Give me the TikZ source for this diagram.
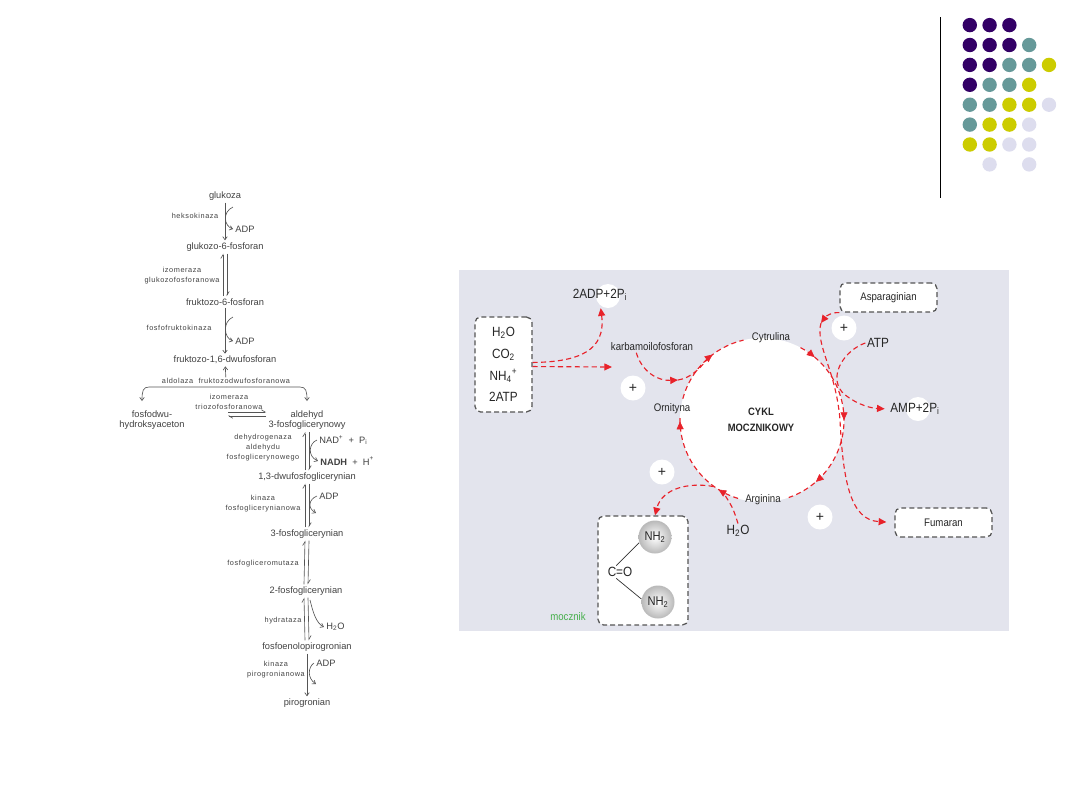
\documentclass[tikz,border=0pt]{standalone}
\usepackage{fontspec}
\setmainfont{Liberation Sans}
\newfontfamily\enzfont[LetterSpace=8]{Liberation Sans}
\newfontfamily\urfont[FakeStretch=0.88]{Liberation Sans}
\usepackage{tikz}
\usetikzlibrary{arrows.meta,decorations.markings}

\begin{document}
\begin{tikzpicture}[x=0.025cm, y=-0.025cm, font=\fontsize{6.6}{7.6}\selectfont,
    met/.style={text=glyText, inner sep=1.5pt},
    enz/.style={text=glyText, font=\enzfont\fontsize{5.2}{7.1}\selectfont, align=center, inner sep=0.5pt},
    glyArr/.style={draw=glyLine, line width=0.45pt, -{Straight Barb[length=2.2pt,width=3.2pt]}},
    harp/.style={draw=glyLine, line width=0.45pt, -{Straight Barb[left,length=2.6pt,width=3.2pt]}},
    redDash/.style={draw=ureaRed, line width=0.8pt, dash pattern=on 3.6pt off 2.4pt},
    redArr/.style={redDash, -{Triangle[length=5.5pt,width=5pt]}},
    urBox/.style={draw=boxGray, fill=white, line width=0.9pt, dash pattern=on 3.5pt off 2.2pt, rounded corners=4pt, inner sep=0pt},
    urLbl/.style={text=black!85, font=\urfont\fontsize{7.8}{9}\selectfont, inner sep=1pt},
    urBig/.style={text=black!85, font=\urfont\fontsize{9.5}{11}\selectfont, inner sep=1pt},
    plusNode/.style={circle, fill=white, minimum size=0.625cm, inner sep=0pt, text=black!85, font=\fontsize{10}{10}\selectfont},
    piDisk/.style={circle, fill=white, minimum size=0.6cm, inner sep=0pt},
    nhBall/.style={circle, shading=radial, inner color=white, outer color=gray!55, minimum size=0.825cm, inner sep=0pt, text=black!85, font=\urfont\fontsize{9}{10}\selectfont}]
    \definecolor{glyText}{RGB}{65,65,65}
    \definecolor{glyLine}{RGB}{85,85,85}
    \definecolor{bgUrea}{RGB}{227,228,237}
    \definecolor{ureaRed}{RGB}{232,34,42}
    \definecolor{boxGray}{RGB}{85,85,85}
    \definecolor{mocGreen}{RGB}{70,175,75}
    \definecolor{dotPurple}{RGB}{51,0,102}
    \definecolor{dotTeal}{RGB}{102,153,153}
    \definecolor{dotYellow}{RGB}{204,204,0}
    \definecolor{dotLilac}{RGB}{221,221,238}

    \newcommand{\revstep}[2]{
        \draw[harp] ([xshift=-0.05cm]#2.north) -- ([xshift=-0.05cm]#1.south);
        \draw[harp] ([xshift=0.05cm]#1.south) -- ([xshift=0.05cm]#2.north);
    }

    \useasboundingbox (0,0) rectangle (1080,810);

    \draw[line width=1.2pt] (940.5,17) -- (940.5,198);
    \foreach \c/\r/\col in {1/1/dotPurple,2/1/dotPurple,3/1/dotPurple,
            1/2/dotPurple,2/2/dotPurple,3/2/dotPurple,4/2/dotTeal,
            1/3/dotPurple,2/3/dotPurple,3/3/dotTeal,4/3/dotTeal,5/3/dotYellow,
            1/4/dotPurple,2/4/dotTeal,3/4/dotTeal,4/4/dotYellow,
            1/5/dotTeal,2/5/dotTeal,3/5/dotYellow,4/5/dotYellow,5/5/dotLilac,
            1/6/dotTeal,2/6/dotYellow,3/6/dotYellow,4/6/dotLilac,
            1/7/dotYellow,2/7/dotYellow,3/7/dotLilac,4/7/dotLilac,
            2/8/dotLilac,4/8/dotLilac}
        {\fill[\col] ({950+19.8*\c},{5.2+19.9*\r}) circle[radius=7.2];}

    \node[met] (glu) at (225,196) {glukoza};
    \node[met] (g6p) at (225,247) {glukozo-6-fosforan};
    \node[met] (f6p) at (225,302) {fruktozo-6-fosforan};
    \node[met] (f16) at (225,360) {fruktozo-1,6-dwufosforan};
    \node[met, align=center] (dhap) at (152,420) {fosfodwu-\\hydroksyaceton};
    \node[met, align=center] (gap) at (307,420) {aldehyd\\3-fosfoglicerynowy};
    \node[met] (bpg) at (307,477) {1,3-dwufosfoglicerynian};
    \node[met] (pg3) at (307,534) {3-fosfoglicerynian};
    \node[met] (pg2) at (306,591) {2-fosfoglicerynian};
    \node[met] (pep) at (307,647) {fosfoenolopirogronian};
    \node[met] (pyr) at (307,703) {pirogronian};

    \node[enz] (eHK) at (195,216) {heksokinaza};
    \node[enz] (eGPI) at (182,276) {izomeraza\\glukozofosforanowa};
    \node[enz] (ePFK) at (179,328) {fosfofruktokinaza};
    \node[enz] (eALD) at (226,381) {aldolaza\ \ fruktozodwufosforanowa};
    \node[enz] (eTPI) at (229,402) {izomeraza\\triozofosforanowa};
    \node[enz] (eGAPDH) at (263,448) {dehydrogenaza\\aldehydu\\fosfoglicerynowego};
    \node[enz] (ePGK) at (263,504) {kinaza\\fosfoglicerynianowa};
    \node[enz] (ePGM) at (263,564) {fosfogliceromutaza};
    \node[enz] (eENO) at (283,621) {hydrataza};
    \node[enz] (ePK) at (276,670) {kinaza\\pirogronianowa};

    \node[met] (adpA) at (245,229) {ADP};
    \node[met] (adpB) at (245,341) {ADP};
    \node[met, anchor=west] (nad) at (317,440) {NAD\textsuperscript{+}\ \ +\ \ P\textsubscript{i}};
    \node[met, anchor=west] (nadh) at (318,461) {\textbf{NADH}\ \ +\ \ H\textsuperscript{+}};
    \node[met, anchor=west] (adpC) at (317,496) {ADP};
    \node[met, anchor=west] (h2oG) at (324,627) {H\textsubscript{2}O};
    \node[met, anchor=west] (adpD) at (314,663) {ADP};

    \coordinate (hkIn) at (233,207);
    \coordinate (pfkIn) at (233,317);
    \coordinate (aldFork) at (226,387);
    \coordinate (dhapIn) at (142,401);
    \coordinate (gapIn) at (307,401);
    \coordinate (tpiTop) at (228,412);
    \coordinate (tpiBot) at (228,416);
    \coordinate (pgkOut) at (316,513);
    \coordinate (enoIn) at (310,600);
    \coordinate (pkOut) at (316,684);

    \draw[glyArr] (glu) -- (g6p);
    \draw[glyArr] (hkIn) .. controls (222,212) and (224,226) .. (adpA.west);
    \revstep{g6p}{f6p}
    \draw[glyArr] (f6p) -- (f16);
    \draw[glyArr] (pfkIn) .. controls (222,322) and (224,338) .. (adpB.west);
    \draw[glyArr] (eALD) -- (f16);
    \draw[glyArr] (aldFork) -- (149,387) .. controls (143,387) and (142,391) .. (dhapIn);
    \draw[glyArr] (aldFork) -- (300,387) .. controls (306,387) and (307,391) .. (gapIn);
    \draw[harp] (tpiTop) -- (tpiTop -| gap.west);
    \draw[harp] (tpiBot -| gap.west) -- (tpiBot);
    \revstep{gap}{bpg}
    \draw[glyArr] (nad.west) .. controls (309,443) and (307,456) .. (nadh.west);
    \revstep{bpg}{pg3}
    \draw[glyArr] (adpC.west) .. controls (309,499) and (307,508) .. (pgkOut);
    \revstep{pg3}{pg2}
    \revstep{pg2}{pep}
    \draw[glyArr] (enoIn) .. controls (313,612) and (316,623) .. (h2oG.west);
    \draw[glyArr] (pep) -- (pyr);
    \draw[glyArr] (adpD.west) .. controls (308,667) and (307,678) .. (pkOut);

    \fill[bgUrea] (459,270) rectangle (1009,631);
    \node[circle, fill=white, minimum size=4.1cm, inner sep=0pt] (cyc) at (762,420) {};
    \draw[redDash] (cyc.center) ++(-62:82) arc[start angle=-62, end angle=71, radius=82];
    \draw[redDash] (cyc.center) ++(107:82) arc[start angle=107, end angle=183, radius=82];
    \draw[redDash] (cyc.center) ++(195:82) arc[start angle=195, end angle=257, radius=82];
    \path[color=ureaRed, postaction={decorate}, decoration={markings,
            mark=at position 0.111 with {\arrow{Triangle[length=5.5pt,width=5pt]}},
            mark=at position 0.25 with {\arrow{Triangle[length=5.5pt,width=5pt]}},
            mark=at position 0.386 with {\arrow{Triangle[length=5.5pt,width=5pt]}},
            mark=at position 0.589 with {\arrow{Triangle[length=5.5pt,width=5pt]}},
            mark=at position 0.747 with {\arrow{Triangle[length=5.5pt,width=5pt]}},
            mark=at position 0.897 with {\arrow{Triangle[length=5.5pt,width=5pt]}}}]
        (cyc.center) ++(-90:82) arc[start angle=-90, end angle=270, radius=82];

    \node[urLbl] (cit) at (771,338) {Cytrulina};
    \node[urLbl] (orn) at (672,409) {Ornityna};
    \node[urLbl] (arg) at (763,500) {Arginina};
    \node[urLbl, font=\urfont\bfseries\fontsize{7.6}{11}\selectfont, align=center] (cykl) at (761,420) {CYKL\\MOCZNIKOWY};
    \node[urLbl] (carb) at (652,347) {karbamoilofosforan};

    \node[urBox, urBig, font=\urfont\fontsize{9.5}{15.5}\selectfont, minimum width=1.425cm, minimum height=2.375cm, align=center] (inBox) at (503.5,364.5) {H\textsubscript{2}O\\CO\textsubscript{2}\\NH\textsubscript{4}\textsuperscript{+}\\2ATP};
    \node[urBox, urLbl, minimum width=2.425cm, minimum height=0.725cm] (asp) at (888.5,297.5) {Asparaginian};
    \node[urBox, urLbl, minimum width=2.425cm, minimum height=0.725cm] (fum) at (943.5,522.5) {Fumaran};
    \node[urBox, minimum width=2.25cm, minimum height=2.725cm] (moc) at (643,570.5) {};
    \node[nhBall] (nhA) at (655,537) {NH\textsubscript{2}};
    \node[nhBall] (nhB) at (658,602) {NH\textsubscript{2}};
    \node[urBig] (co) at (620,572) {C=O};
    \draw[black!80, line width=0.5pt] (co.120) -- (nhA.200);
    \draw[black!80, line width=0.5pt] (co.240) -- (nhB.170);
    \node[urLbl, text=mocGreen] (mocLbl) at (568,617) {mocznik};

    \node[piDisk] (adpDisk) at (608,296) {};
    \node[urBig] (adp) at (600,295) {2ADP+2P\textsubscript{i}};
    \node[urBig] (atp) at (878,343) {ATP};
    \node[piDisk] (ampDisk) at (918,409) {};
    \node[urBig] (amp) at (915,409) {AMP+2P\textsubscript{i}};
    \node[urBig] (h2oU) at (738,531) {H\textsubscript{2}O};

    \coordinate (carbIn) at (612,367);
    \coordinate (carbTip) at (678,380);
    \coordinate (aspTip) at (821,323);
    \draw[redArr, shorten >=4pt] (inBox.4) .. controls (580,362) and (606,350) .. (adp.south);
    \draw[redArr] (inBox.-4) -- (carbIn);
    \draw[redArr] (carb.200) .. controls (642,372) and (658,381) .. (carbTip);
    \draw[redDash] (carbTip) .. controls (692,378) and (702,366) .. (cyc.130);
    \draw[redArr] (asp.south west) .. controls (832,312) and (826,316) .. (aspTip);
    \draw[redArr, shorten >=2mm] (aspTip) .. controls (815,345) and (836,370) .. (840,420) .. controls (843,480) and (850,520) .. (fum.west);
    \draw[redArr, shorten >=1mm] (atp.west) .. controls (845,350) and (828,375) .. (842,392) .. controls (852,402) and (868,408) .. (amp.west);
    \draw[redArr] (cyc.234) .. controls (690,482) and (662,488) .. (moc.north -| nhA);
    \draw[redDash] (h2oU.north) .. controls (733,508) .. (cyc.242);

    \node[plusNode] (plA) at (633,388) {+};
    \node[plusNode] (plB) at (844,328) {+};
    \node[plusNode] (plC) at (662,472) {+};
    \node[plusNode] (plD) at (820,517) {+};
\end{tikzpicture}
\end{document}
